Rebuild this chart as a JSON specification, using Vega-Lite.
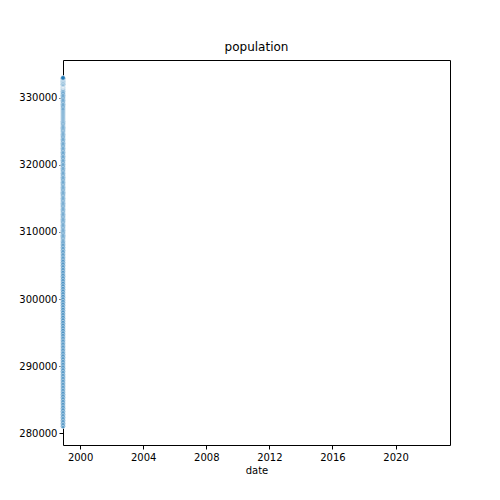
{
  "$schema": "https://vega.github.io/schema/vega-lite/v6.json",
  "autosize": "none",
  "padding": {"left": 63, "top": 60, "right": 50, "bottom": 55},
  "width": 387,
  "height": 385,
  "title": {"text": "population", "font": "DejaVu Sans", "fontSize": 12, "fontWeight": "normal", "offset": 6},
  "config": {
    "font": "DejaVu Sans",
    "view": {"stroke": "black", "strokeWidth": 1},
    "axis": {"grid": false, "domain": false, "tickColor": "black", "labelColor": "black", "labelFontSize": 10, "titleFontSize": 10, "titleFontWeight": "normal", "tickSize": 4, "labelFont": "DejaVu Sans", "titleFont": "DejaVu Sans"}
  },
  "data": {"values": [
    {"yr":2000,"v":[281000,281225,281450,281675,281900,282125,282350,282575,282800,283025,283250,283475]},
    {"yr":2001,"v":[283700,283933,284167,284400,284633,284867,285100,285333,285567,285800,286033,286267]},
    {"yr":2002,"v":[286500,286725,286950,287175,287400,287625,287850,288075,288300,288525,288750,288975]},
    {"yr":2003,"v":[289200,289433,289667,289900,290133,290367,290600,290833,291067,291300,291533,291767]},
    {"yr":2004,"v":[292000,292225,292450,292675,292900,293125,293350,293575,293800,294025,294250,294475]},
    {"yr":2005,"v":[294700,294942,295183,295425,295667,295908,296150,296392,296633,296875,297117,297358]},
    {"yr":2006,"v":[297600,297842,298083,298325,298567,298808,299050,299292,299533,299775,300017,300258]},
    {"yr":2007,"v":[300500,300742,300983,301225,301467,301708,301950,302192,302433,302675,302917,303158]},
    {"yr":2008,"v":[303400,303633,303867,304100,304333,304567,304800,305033,305267,305500,305733,305967]},
    {"yr":2009,"v":[306200,306417,306633,306850,307067,307283,307500,307717,307933,308150,308367,308583]},
    {"yr":2010,"v":[308800,308983,309167,309350,309533,309717,309900,310083,310267,310450,310633,310817]},
    {"yr":2011,"v":[311000,311183,311367,311550,311733,311917,312100,312283,312467,312650,312833,313017]},
    {"yr":2012,"v":[313200,313383,313567,313750,313933,314117,314300,314483,314667,314850,315033,315217]},
    {"yr":2013,"v":[315400,315583,315767,315950,316133,316317,316500,316683,316867,317050,317233,317417]},
    {"yr":2014,"v":[317600,317792,317983,318175,318367,318558,318750,318942,319133,319325,319517,319708]},
    {"yr":2015,"v":[319900,320100,320300,320500,320700,320900,321100,321300,321500,321700,321900,322100]},
    {"yr":2016,"v":[322300,322492,322683,322875,323067,323258,323450,323642,323833,324025,324217,324408]},
    {"yr":2017,"v":[324600,324775,324950,325125,325300,325475,325650,325825,326000,326175,326350,326525]},
    {"yr":2018,"v":[326700,326850,327000,327150,327300,327450,327600,327750,327900,328050,328200,328350]},
    {"yr":2019,"v":[328500,328692,328883,329075,329267,329458,329650,329842,330033,330225,330417,330608]},
    {"yr":2020,"v":[330800,331000,331200,331350,331500,331600,331650,331700,331750,331800,331850,331880]},
    {"yr":2021,"v":[331900,331920,331940,331960,331980,332000,332050,332150,332300,332400,332500,332600]},
    {"yr":2022,"v":[332700,332780,332860,332930,333000]}
  ]},
  "transform": [
    {"flatten": ["v"], "index": "m"},
    {"calculate": "datetime(datum.yr, datum.m, 1)", "as": "d"}
  ],
  "mark": {"type": "circle", "size": 22, "fill": "#1f77b4", "stroke": "white", "strokeWidth": 0.6, "opacity": 1},
  "encoding": {
    "x": {"field": "d", "type": "temporal", "title": "date",
      "scale": {"domain": [{"year": 1998, "month": 12, "date": 1}, {"year": 2023, "month": 6, "date": 15}]},
      "axis": {"format": "%Y", "values": [{"year":2000},{"year":2004},{"year":2008},{"year":2012},{"year":2016},{"year":2020}], "labelPadding": 3, "titlePadding": 3}},
    "y": {"field": "v", "type": "quantitative", "title": null,
      "scale": {"zero": false, "domain": [278210, 335670], "nice": false},
      "axis": {"format": "d", "values": [280000,290000,300000,310000,320000,330000]}}
  }
}
